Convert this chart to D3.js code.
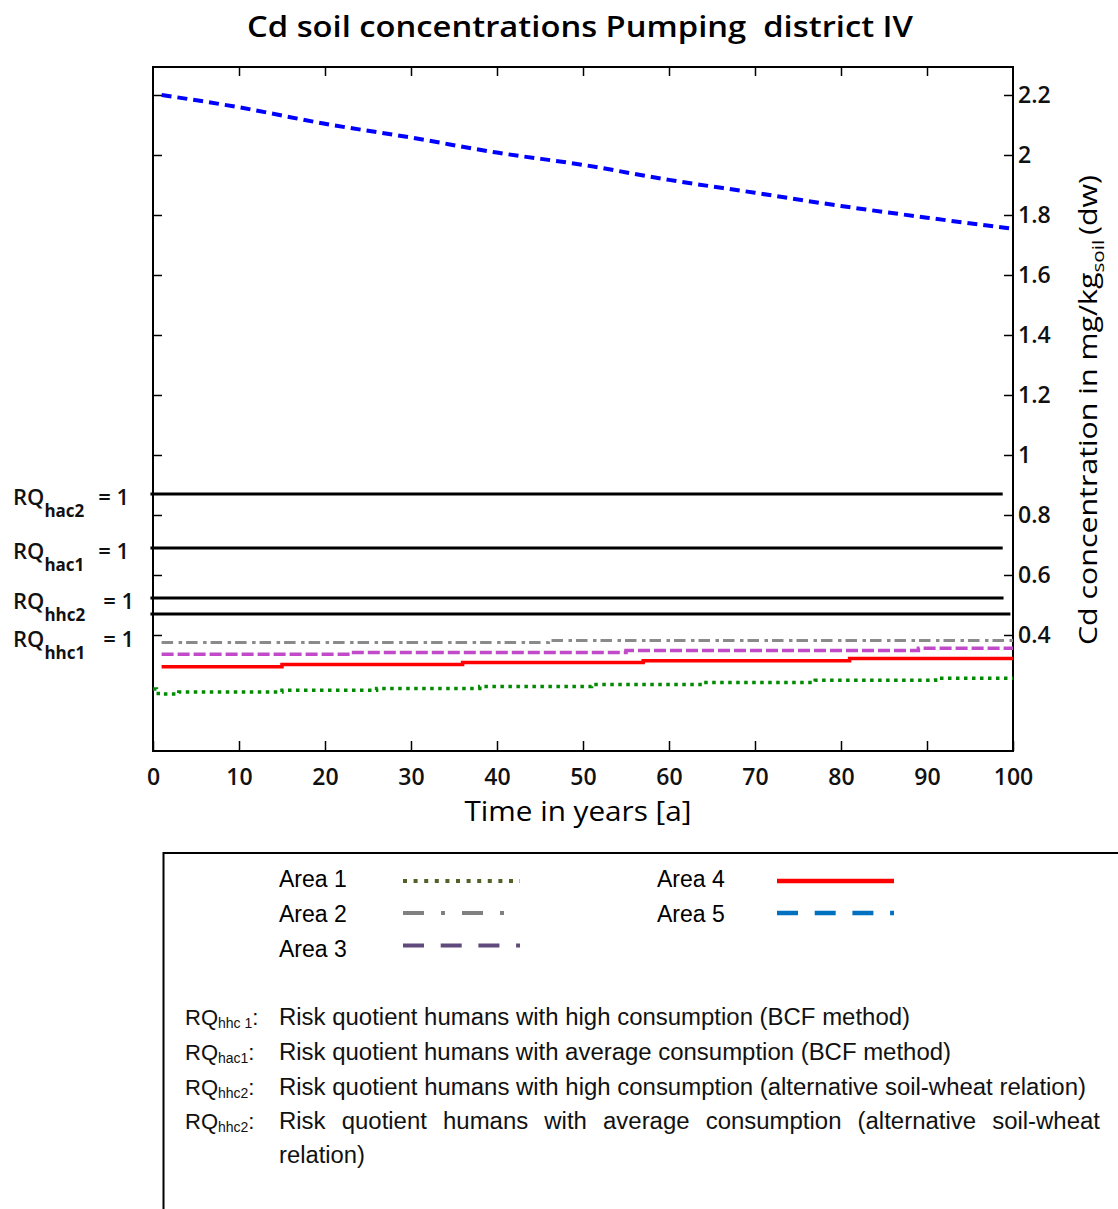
<!DOCTYPE html>
<html><head><meta charset="utf-8">
<script src="https://cdn.jsdelivr.net/npm/d3@7"></script>
<style>body{margin:0;background:#fff}svg{display:block}</style>
</head><body>
<svg id="c" width="1118" height="1209"></svg>
<script>
// ---------------- data ----------------
const xTicks = [0,10,20,30,40,50,60,70,80,90,100];
const yTicks = [0.4,0.6,0.8,1,1.2,1.4,1.6,1.8,2,2.2];
const yTickLabels = ["0.4","0.6","0.8","1","1.2","1.4","1.6","1.8","2","2.2"];

const area5Years  = [1,10,20,30,40,50,60,70,80,90,99.7];
const area5Values = [2.200,2.159,2.104,2.058,2.008,1.967,1.917,1.874,1.830,1.791,1.755];

const area2Years  = [1,46,100];
const area2Values = [0.375,0.382,0.382];

const area3Years  = [1,23,55,89,100];
const area3Values = [0.336,0.342,0.348,0.356,0.356];

const area4Years  = [1,15,36,57,81,100];
const area4Values = [0.294,0.302,0.308,0.314,0.322,0.322];

const area1Years  = [0,0.4,1,3,15,26,38,51,64,77,91,100];
const area1Values = [0.22,0.205,0.203,0.21,0.216,0.222,0.228,0.235,0.242,0.249,0.256,0.256];

const rqNames  = ["hac2","hac1","hhc2","hhc1"];
const rqValues = [0.87,0.69,0.523,0.47];
const rqEnds   = [98.8,98.8,98.9,99.7];

const legendNames = ["Area 1","Area 2","Area 3","Area 4","Area 5"];

const descSubs = ["hhc 1","hac1","hhc2","hhc2"];
const descTexts = [
  "Risk quotient humans with high consumption (BCF method)",
  "Risk quotient humans with average consumption (BCF method)",
  "Risk quotient humans with high consumption (alternative soil-wheat relation)",
  "Risk quotient humans with average consumption (alternative soil-wheat",
  "relation)"
];

// ---------------- layout ----------------
const svg = d3.select("#c");
const L=153, R=1013, T=67, B=751;
const x = d3.scaleLinear().domain([0,100]).range([L,R]);
const y = d3.scaleLinear().domain([0.0133,2.2933]).range([B,T]);
const calib = "'Open Sans', Lato, sans-serif";

// title
svg.append("text").attr("x",580).attr("y",37).attr("text-anchor","middle")
  .attr("font-family",calib).attr("font-weight",600).attr("font-size",28)
  .attr("textLength",666).attr("lengthAdjust","spacingAndGlyphs")
  .text("Cd soil concentrations Pumping  district IV").style("white-space","pre");

// axes
const axR = d3.axisRight(y).tickValues(yTicks).tickSize(-9).tickPadding(5)
  .tickFormat((d,i)=>yTickLabels[i]);
const gR = svg.append("g").attr("transform",`translate(${R},0)`).call(axR);
const axL = d3.axisLeft(y).tickValues(yTicks).tickSize(-9).tickFormat("");
const gL = svg.append("g").attr("transform",`translate(${L},0)`).call(axL);
const axB = d3.axisBottom(x).tickValues(xTicks).tickSize(-10).tickPadding(18).tickFormat(d3.format("d"));
const gB = svg.append("g").attr("transform",`translate(0,${B})`).call(axB);
const axT = d3.axisTop(x).tickValues(xTicks.slice(1,-1)).tickSize(-9).tickFormat("");
const gT = svg.append("g").attr("transform",`translate(0,${T})`).call(axT);
[gR,gL,gB,gT].forEach(g=>{
  g.select(".domain").remove();
  g.selectAll(".tick line").attr("stroke","#000").attr("stroke-width",1.5);
  g.selectAll("text").attr("font-family",calib).attr("font-weight",600)
    .attr("font-size",23).attr("fill","#111");
});

// frame
svg.append("rect").attr("x",L).attr("y",T).attr("width",R-L).attr("height",B-T)
  .attr("fill","none").attr("stroke","#000").attr("stroke-width",2);

// axis titles
svg.append("text").attr("x",578).attr("y",821).attr("text-anchor","middle")
  .attr("font-family",calib).attr("font-size",28)
  .attr("textLength",227).attr("lengthAdjust","spacingAndGlyphs")
  .text("Time in years [a]");

const yt = svg.append("text").attr("transform","translate(1097,645) rotate(-90)")
  .attr("font-family",calib).attr("font-size",25)
  .attr("textLength",470).attr("lengthAdjust","spacingAndGlyphs");
yt.append("tspan").text("Cd concentration in mg/kg");
yt.append("tspan").attr("dy",7).attr("font-size",17).text("soil");
yt.append("tspan").attr("dy",-7).attr("dx",4).text("(dw)");

// threshold lines
rqValues.forEach((v,i)=>{
  svg.append("line").attr("x1",x(-0.3)).attr("x2",x(rqEnds[i]))
    .attr("y1",y(v)).attr("y2",y(v)).attr("stroke","#000").attr("stroke-width",3);
  const off = i===3 ? 33 : 11;
  const t = svg.append("text").attr("x",13).attr("y",y(v)+off)
    .attr("font-family",calib).attr("font-weight",600).attr("font-size",22).attr("fill","#111");
  t.append("tspan").text("RQ");
  t.append("tspan").attr("dy",12).attr("font-size",17).attr("font-weight",700).text(rqNames[i]);
  t.append("tspan").attr("dy",-12).attr("dx",i<2?14:18).text("= 1");
});

// series
function series(years, vals, color, width, dash){
  const data = years.map((yr,i)=>[yr,vals[i]]);
  svg.append("path").datum(data)
    .attr("d",d3.line().x(d=>x(d[0])).y(d=>y(d[1])).curve(d3.curveStepAfter))
    .attr("fill","none").attr("stroke",color).attr("stroke-width",width)
    .attr("stroke-dasharray",dash);
}
series(area2Years,area2Values,"#8a8a8a",3,"11.5,5.5,3.5,4");
series(area3Years,area3Values,"#c04ac8",3.5,"12,4");
series(area4Years,area4Values,"#ff0000",3.5,null);
series(area1Years,area1Values,"#008a00",3.5,"3.5,4.5");
// blue: smooth decline
{
  const data = area5Years.map((yr,i)=>[yr,area5Values[i]]);
  svg.append("path").datum(data)
    .attr("d",d3.line().x(d=>x(d[0])).y(d=>y(d[1])).curve(d3.curveMonotoneX))
    .attr("fill","none").attr("stroke","#0000ff").attr("stroke-width",4)
    .attr("stroke-dasharray","10,6");
}

// legend box
svg.append("rect").attr("x",163.5).attr("y",853).attr("width",1000).attr("height",400)
  .attr("fill","none").attr("stroke","#000").attr("stroke-width",2);

const legPos = [
  {tx:279, ty:887, lx:403, ly:881, c:"#4f6228", w:4, d:"4,6.6"},
  {tx:279, ty:922, lx:403, ly:913, c:"#808080", w:4, d:"21,17,4,17"},
  {tx:279, ty:957, lx:403, ly:945.5, c:"#604a7b", w:4, d:"21,16.7"},
  {tx:657, ty:887, lx:777, ly:881, c:"#ff0000", w:4.5, d:null},
  {tx:657, ty:922, lx:777, ly:913, c:"#0070c0", w:4.5, d:"21,16.7"}
];
legendNames.forEach((n,i)=>{
  const p = legPos[i];
  svg.append("text").attr("x",p.tx).attr("y",p.ty).attr("font-family","'Liberation Sans',Arial,sans-serif")
    .attr("font-size",23).text(n);
  svg.append("line").attr("x1",p.lx).attr("x2",p.lx+117).attr("y1",p.ly).attr("y2",p.ly)
    .attr("stroke",p.c).attr("stroke-width",p.w).attr("stroke-dasharray",p.d);
});

// description lines
const narrow = "'Liberation Sans Narrow','Arial Narrow','Liberation Sans',sans-serif";
const baseY = [1025,1060,1095,1129];
descSubs.forEach((s,i)=>{
  const t = svg.append("text").attr("x",185).attr("y",baseY[i]).attr("font-family",narrow)
    .attr("font-size",22).attr("fill","#111");
  t.append("tspan").text("RQ");
  t.append("tspan").attr("dy",3).attr("font-size",14).text(s);
  t.append("tspan").attr("dy",-3).text(":");
});
const targets = [631,672,807,821,86];
const descY = [1025,1060,1095,1129,1163];
let scale = 1;
descTexts.forEach((s,i)=>{
  const t = svg.append("text").attr("x",279).attr("y",descY[i]).attr("font-family",narrow)
    .attr("font-size",23).attr("fill","#111").text(s);
  const w = t.node().getComputedTextLength();
  if(i===0) scale = targets[0]/w;
  if(i===3){
    const nat = targets[3]/scale;
    const nsp = s.split(" ").length-1;
    t.attr("word-spacing",(nat-w)/nsp);
  }
  t.attr("textLength",targets[i]).attr("lengthAdjust","spacingAndGlyphs");
});
</script>
</body></html>
